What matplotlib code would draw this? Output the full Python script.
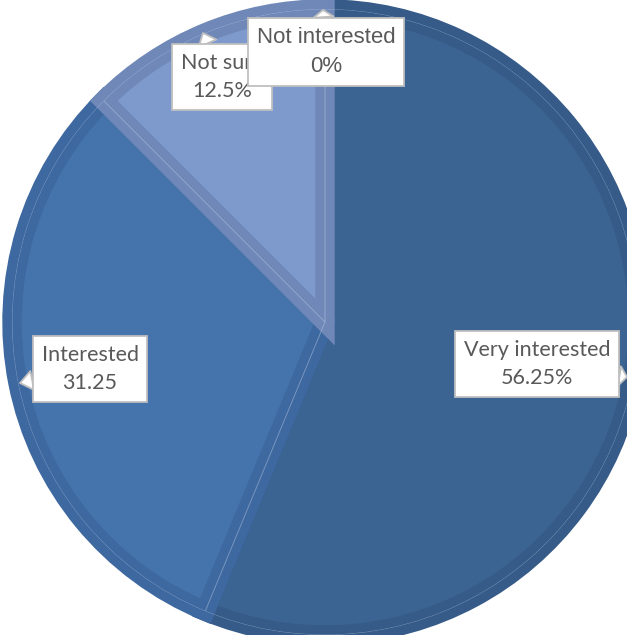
import matplotlib.pyplot as plt
from matplotlib.patches import Wedge

categories = ["Very interested", "Interested", "Not sure", "Not interested"]
values = [56.25, 31.25, 12.5, 0]
label_text = ["56.25%", "31.25", "12.5%", "0%"]

fills = ["#3b6493", "#4574ad", "#7e99cc", "#8aa4d4"]
rims = ["#365b88", "#3e68a0", "#6f88b8", "#7a93c2"]

fig = plt.figure(figsize=(6.27, 6.35), dpi=100)
ax = fig.add_axes([0, 0, 1, 1])

wedges, _ = ax.pie(values, center=(325, 313), radius=313, startangle=90,
                   counterclock=False, colors=fills, frame=True)
ax.set_xlim(0, 627)
ax.set_ylim(0, 635)
ax.set_aspect("equal")
ax.axis("off")

# bevelled rim: thick edge clipped to the wedge so only the inner half shows
for w, rim, v in zip(wedges, rims, values):
    if v == 0:
        w.set_visible(False)
        continue
    w.set_edgecolor(rim)
    w.set_linewidth(14)
    w.set_clip_path(w)
    # thin highlight along the slice border
    outline = Wedge(w.center, w.r, w.theta1, w.theta2,
                    fill=False, ec="#c9d6ea", lw=0.6, alpha=0.5)
    outline.set_clip_path(w)
    ax.add_patch(outline)

box = dict(boxstyle="square,pad=0.4", fc="white", ec="#bfbfbf", lw=1.3)

# (text position, pointer tip) for each callout
label_pos = [(537, 271), (90, 266), (222, 558), (326, 583)]
tip_pos = [(627, 258), (20, 252), (203, 602), (323, 625)]
fonts = [["Lato", "DejaVu Sans"]] * 3 + [["Liberation Sans", "DejaVu Sans"]]
sizes = [15.5, 15.5, 15.5, 16]

for i in range(len(categories)):
    txt = categories[i] + "\n" + label_text[i]
    ax.annotate(txt, xy=tip_pos[i], xytext=label_pos[i], ha="center", va="center",
                fontsize=sizes[i], family=fonts[i], color="#595959",
                linespacing=1.55, bbox=box,
                arrowprops=dict(arrowstyle="wedge,tail_width=0.9,shrink_factor=0.5",
                                fc="white", ec="#bfbfbf", lw=1.3,
                                shrinkA=0, shrinkB=0),
                zorder=5 + i)

fig.savefig("out.png", dpi=100)
